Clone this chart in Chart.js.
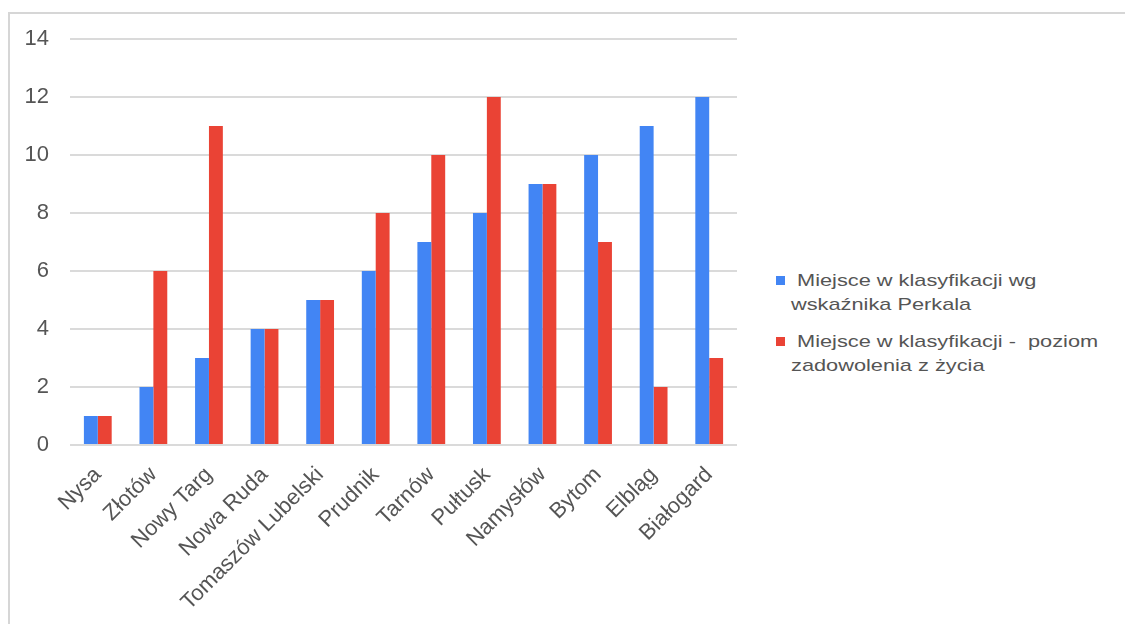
<!DOCTYPE html>
<html>
<head>
<meta charset="utf-8">
<script src="https://cdn.jsdelivr.net/npm/chart.js@4.4.1/dist/chart.umd.min.js"></script>
<style>
  html, body { margin: 0; padding: 0; background: #ffffff; }
  body { width: 1125px; height: 624px; position: relative; overflow: hidden; font-family: "Liberation Sans", Arial, sans-serif; }
  #frame { position: absolute; left: 8px; top: 12px; width: 1120px; height: 620px; border-top: 2px solid #d6d6d6; border-left: 2px solid #d6d6d6; box-sizing: border-box; }
  #wrap { position: absolute; left: 0; top: 0; width: 760px; height: 624px; }
  #legend { position: absolute; left: 776px; top: 269px; }
  .item { display: flex; align-items: flex-start; margin-bottom: 13px; }
  .sw { width: 9px; height: 9px; margin-top: 7px; margin-right: 6px; flex: none; }
  .txt { font-size: 17px; line-height: 24px; color: #555555; white-space: pre; transform: scaleX(1.28); transform-origin: left top; }
</style>
</head>
<body>
<div id="frame"></div>
<div id="wrap"><canvas id="c"></canvas></div>
<div id="legend"></div>
<script>
const categories = ["Nysa", "Złotów", "Nowy Targ", "Nowa Ruda", "Tomaszów Lubelski", "Prudnik", "Tarnów", "Pułtusk", "Namysłów", "Bytom", "Elbląg", "Białogard"];
const perkalRank = [1, 2, 3, 4, 5, 6, 7, 8, 9, 10, 11, 12];
const satisfactionRank = [1, 6, 11, 4, 5, 8, 10, 12, 9, 7, 2, 3];
const seriesNames = [" Miejsce w klasyfikacji wg\nwskaźnika Perkala", " Miejsce w klasyfikacji -  poziom\nzadowolenia z życia"];
const seriesColors = ["#4285F4", "#EA4335"];
const yMin = 0, yMax = 14, yStep = 2;

const textColor = "#555555";
const font22 = { family: "'Liberation Sans', Arial, sans-serif", size: 22 };

const chart = new Chart(document.getElementById("c"), {
  type: "bar",
  data: {
    labels: categories,
    datasets: [
      { label: seriesNames[0], data: perkalRank, backgroundColor: seriesColors[0], borderWidth: 0 },
      { label: seriesNames[1], data: satisfactionRank, backgroundColor: seriesColors[1], borderWidth: 0 }
    ]
  },
  options: {
    responsive: true,
    maintainAspectRatio: false,
    animation: false,
    datasets: { bar: { categoryPercentage: 0.5, barPercentage: 1.0 } },
    layout: { padding: { top: 39, right: 23, left: 0, bottom: 0 } },
    plugins: { legend: { display: false }, tooltip: { enabled: false } },
    scales: {
      x: {
        grid: { display: false },
        border: { display: false },
        ticks: { font: font22, color: textColor, minRotation: 45, maxRotation: 45, autoSkip: false, padding: 9 },
        afterFit: (s) => { s.height = 179; }
      },
      y: {
        min: yMin, max: yMax,
        grid: { color: "#dadada", lineWidth: 2, drawTicks: false },
        border: { display: false },
        ticks: { stepSize: yStep, font: font22, color: textColor, padding: 21 },
        afterFit: (s) => { s.width = 70; }
      }
    }
  }
});

const legend = document.getElementById("legend");
chart.data.datasets.forEach((ds) => {
  const item = document.createElement("div");
  item.className = "item";
  const sw = document.createElement("div");
  sw.className = "sw";
  sw.style.background = ds.backgroundColor;
  const t = document.createElement("div");
  t.className = "txt";
  t.textContent = ds.label;
  item.appendChild(sw);
  item.appendChild(t);
  legend.appendChild(item);
});
</script>
</body>
</html>
